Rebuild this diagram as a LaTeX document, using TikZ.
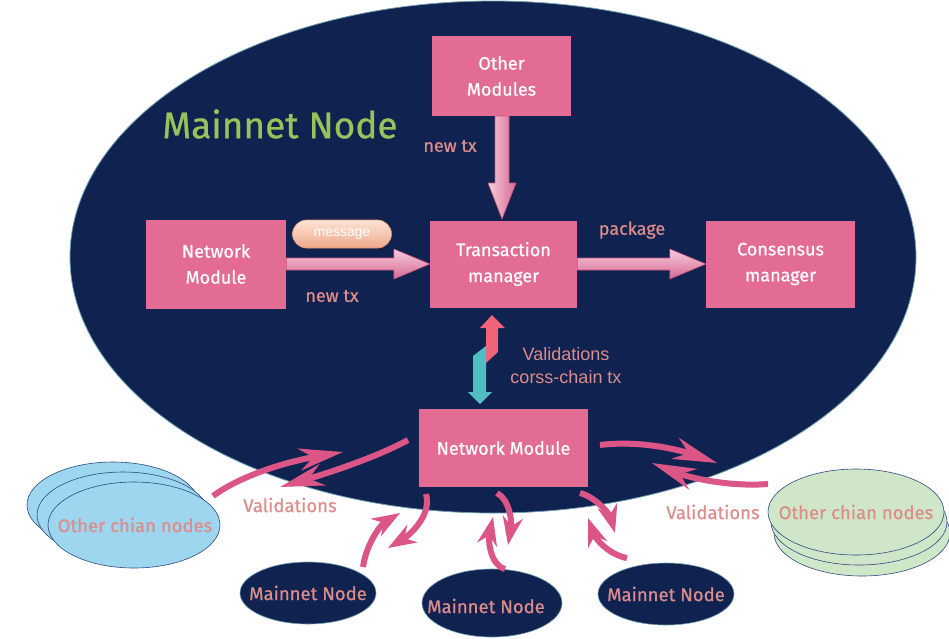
\documentclass[tikz,border=0pt]{standalone}
\usepackage{fontspec}
\setmainfont{Fira Sans}[FakeBold=0.6]
\newfontfamily\arialf{Liberation Sans}
\usetikzlibrary{arrows.meta,calc,shapes.geometric}
\definecolor{navy}{RGB}{16,34,79}
\definecolor{edgeteal}{RGB}{110,160,175}
\definecolor{boxpink}{RGB}{226,108,148}
\definecolor{salmon}{RGB}{220,140,138}
\definecolor{titlegreen}{RGB}{155,194,90}
\definecolor{arrowpink}{RGB}{220,85,135}
\definecolor{upred}{RGB}{240,100,122}
\definecolor{downteal}{RGB}{80,190,192}
\definecolor{chainblue}{RGB}{157,214,238}
\definecolor{chaingreen}{RGB}{207,230,200}
\definecolor{chainedge}{RGB}{45,75,130}
\definecolor{fatlight}{RGB}{246,205,220}
\definecolor{fatdark}{RGB}{215,105,145}
\definecolor{fatedge}{RGB}{200,82,125}
\definecolor{msgtop}{RGB}{252,228,214}
\definecolor{msgbot}{RGB}{240,168,138}
\definecolor{msgedge}{RGB}{228,148,118}
\newcommand\fatH[2]{%
  \path[fatarrowh] ($(#1)+(0,-6)$) -- ($(#2)+(-36,-6)$) -- ($(#2)+(-36,-15)$) -- (#2)
    -- ($(#2)+(-36,15)$) -- ($(#2)+(-36,6)$) -- ($(#1)+(0,6)$) -- cycle;}
\newcommand\fatV[2]{%
  \path[fatarrowv] ($(#1)+(-7,0)$) -- ($(#2)+(-7,-36)$) -- ($(#2)+(-14,-36)$) -- (#2)
    -- ($(#2)+(14,-36)$) -- ($(#2)+(7,-36)$) -- ($(#1)+(7,0)$) -- cycle;}
\begin{document}
\begin{tikzpicture}[x=1pt,y=-1pt,
  boxnode/.style={rectangle, fill=boxpink, text=white, align=center, inner sep=0pt,
    font=\fontsize{18}{26}\selectfont},
  lbl/.style={text=salmon, inner sep=0pt, font=\fontsize{18}{20}\selectfont},
  biglbl/.style={text=salmon, inner sep=0pt, font=\fontsize{18.5}{20}\selectfont},
  mnode/.style={ellipse, fill=navy, draw=edgeteal, line width=0.6pt, inner sep=0pt,
    minimum width=136, minimum height=62},
  chainb/.style={ellipse, fill=chainblue, draw=chainedge, line width=0.6pt, inner sep=0pt,
    minimum width=172, minimum height=86},
  chaing/.style={ellipse, fill=chaingreen, draw=chainedge, line width=0.6pt, inner sep=0pt,
    minimum width=176, minimum height=86},
  carrow/.style={draw=arrowpink, line width=6pt, -{Stealth[length=28pt,width=20pt,inset=9pt]}},
  chainarrow/.style={draw=arrowpink, line width=6pt, -{Stealth[length=44pt,width=22pt,inset=14pt]}},
  fatarrowh/.style={top color=fatlight, bottom color=fatdark, draw=fatedge, line width=0.6pt},
  fatarrowv/.style={left color=fatlight, right color=fatdark, draw=fatedge, line width=0.6pt}]
\useasboundingbox (0,0) rectangle (949,638);

% big mainnet ellipse
\node[ellipse, fill=navy, draw=edgeteal, line width=0.8pt, inner sep=0pt,
  minimum width=846, minimum height=512] (main) at (493,257) {};
\node[text=titlegreen, inner sep=0pt, font=\fontsize{37}{40}\selectfont] (title) at (280,124) {Mainnet Node};

% boxes
\node[boxnode, minimum width=139, minimum height=80] (om) at (501.5,76) {Other\\Modules};
\node[boxnode, minimum width=140, minimum height=89] (nm) at (216,264) {Network\\Module};
\node[boxnode, minimum width=147, minimum height=87] (tm) at (503.5,264) {Transaction\\manager};
\node[boxnode, minimum width=149, minimum height=87] (cm) at (780.5,264) {Consensus\\manager};
\node[boxnode, minimum width=169, minimum height=78] (nb) at (503.5,448) {Network Module};

% fat arrows
\fatH{nm.east}{tm.west}
\fatH{tm.east}{cm.west}
\coordinate (omb) at (502,116);
\coordinate (tmt) at (502,219);
\fatV{omb}{tmt}

% message pill
\node[rectangle, rounded corners=14pt, minimum width=99, minimum height=28, inner sep=0pt,
  top color=msgtop, bottom color=msgbot, draw=msgedge,
  line width=0.6pt, text=white, font=\arialf\fontsize{14}{15}\selectfont] (msg) at (342,234) {message};

% labels
\node[lbl] (newtxa) at (332,296) {new tx};
\node[lbl] (newtxb) at (450,146) {new tx};
\node[lbl] (pkg) at (632,230) {package};
\node[text=salmon, inner sep=0pt, align=center, font=\arialf\fontsize{18}{23}\selectfont] (valc) at (566,366) {Validations\\corss-chain tx};

% up/down arrows between transaction manager and network module
\fill[upred] (486,363) -- (486,328) -- (480,328) -- (492,315) -- (505,328) -- (498,328) -- (498,352) -- cycle;
\fill[downteal] (486,346) -- (486,392) -- (492,392) -- (480,404) -- (468,392) -- (473,392) -- (473,356) -- cycle;

% other chain nodes (left)
\node[chainb] (cl3) at (113,505) {};
\node[chainb] (cl2) at (123,515) {};
\node[chainb] (cl1) at (134,525) {};
\node[biglbl] (cltxt) at (135,525) {Other chian nodes};

% other chain nodes (right)
\node[chaing] (cr3) at (862,533) {};
\node[chaing] (cr2) at (859,522) {};
\node[chaing] (cr1) at (856,512) {};
\node[biglbl] (crtxt) at (856,512) {Other chian nodes};

% validations labels
\node[biglbl] (vall) at (290,505) {Validations};
\node[biglbl] (valr) at (713,512) {Validations};

% mainnet nodes
\node[mnode] (mn1) at (308,593) {};
\node[mnode, minimum width=140, minimum height=68] (mn2) at (492,603) {};
\node[mnode] (mn3) at (666,594) {};
\node[biglbl] (mn1t) at (mn1) {Mainnet Node};
\node[biglbl] (mn2t) at (486,606) {Mainnet Node};
\node[biglbl] (mn3t) at (mn3) {Mainnet Node};

% curved arrow end points
\coordinate (la1) at (213,496); \coordinate (la2) at (343,452);
\coordinate (lb1) at (408,440); \coordinate (lb2) at (280,487);
\coordinate (ra1) at (600,445); \coordinate (ra2) at (717,463);
\coordinate (rb1) at (768,484); \coordinate (rb2) at (652,463);
\coordinate (m1u1) at (363,567); \coordinate (m1u2) at (400,513);
\coordinate (m1d1) at (426,494); \coordinate (m1d2) at (388,548);
\coordinate (m2d1) at (497,493); \coordinate (m2d2) at (508,545);
\coordinate (m2u1) at (505,569); \coordinate (m2u2) at (493,517);
\coordinate (m3d1) at (580,493); \coordinate (m3d2) at (615,533);
\coordinate (m3u1) at (627,558); \coordinate (m3u2) at (588,518);

\draw[chainarrow] (la1) .. controls (240,476) and (285,462) .. (la2);
\draw[chainarrow] (lb1) .. controls (375,458) and (325,474) .. (lb2);
\draw[chainarrow] (ra1) .. controls (640,440) and (680,450) .. (ra2);
\draw[chainarrow] (rb1) .. controls (730,487) and (690,478) .. (rb2);

\draw[carrow] (m1u1) .. controls (366,545) and (380,525) .. (m1u2);
\draw[carrow] (m1d1) .. controls (432,515) and (410,535) .. (m1d2);
\draw[carrow] (m2d1) .. controls (510,500) and (512,522) .. (m2d2);
\draw[carrow] (m2u1) .. controls (490,565) and (488,540) .. (m2u2);
\draw[carrow] (m3d1) .. controls (596,497) and (610,515) .. (m3d2);
\draw[carrow] (m3u1) .. controls (610,555) and (596,540) .. (m3u2);
\end{tikzpicture}
\end{document}
